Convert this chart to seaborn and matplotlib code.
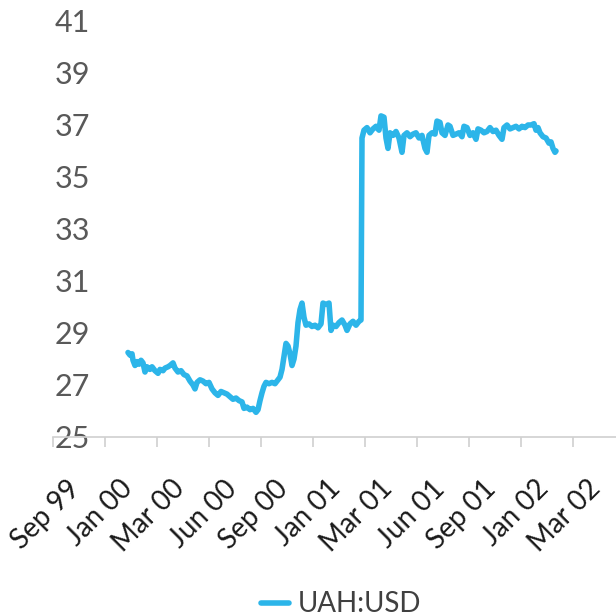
import matplotlib
matplotlib.use("Agg")
import matplotlib.pyplot as plt
import matplotlib.transforms as mtransforms
import seaborn as sns
import pandas as pd

# ---- data (day index along the axis, exchange rate) ----
day = [75, 77, 79, 80, 82, 84, 86, 88, 90, 92, 94, 97, 99, 102, 105, 107, 110, 112,
       115, 117, 120, 122, 125, 128, 131, 134, 137, 140, 142, 144, 147, 150, 153, 156,
       159, 162, 165, 168, 171, 174, 177, 180, 183, 186, 189, 191, 194, 197, 200, 203,
       205, 207, 209, 211, 213, 216, 219, 222, 225, 227, 229, 231, 233, 235, 237, 239,
       241, 243, 245, 247, 249, 251, 253, 256, 259, 262, 265, 268, 270, 273, 276, 278,
       280, 283, 286, 289, 292, 294, 297, 300, 303, 306, 308, 309, 311, 314, 317, 320,
       323, 326, 328, 331, 333, 335, 337, 340, 343, 346, 349, 351, 354, 357, 360, 363,
       366, 369, 372, 374, 376, 379, 382, 384, 387, 389, 392, 395, 397, 400, 403, 406,
       409, 411, 414, 417, 420, 423, 425, 428, 431, 434, 437, 440, 443, 446, 449, 451,
       454, 457, 460, 463, 466, 469, 472, 475, 478, 481, 483, 485, 487, 490, 493, 496,
       498, 500, 502, 503]
rate = [28.25, 28.15, 28.2, 27.95, 27.75, 27.9, 27.8, 27.95, 27.85, 27.5, 27.7, 27.6,
        27.7, 27.55, 27.45, 27.6, 27.55, 27.65, 27.7, 27.75, 27.85, 27.65, 27.5, 27.55,
        27.4, 27.35, 27.15, 27.0, 26.85, 27.1, 27.2, 27.15, 27.05, 27.1, 26.85, 26.7,
        26.6, 26.75, 26.7, 26.65, 26.55, 26.45, 26.5, 26.4, 26.35, 26.1, 26.15, 26.05,
        26.1, 25.95, 26.05, 26.4, 26.7, 26.95, 27.1, 27.05, 27.1, 27.05, 27.2, 27.3,
        27.6, 28.1, 28.6, 28.5, 28.2, 27.75, 28.0, 28.5, 29.4, 29.9, 30.15, 29.6, 29.3,
        29.35, 29.25, 29.3, 29.2, 29.35, 30.15, 30.1, 30.15, 29.1, 29.3, 29.25, 29.4,
        29.5, 29.3, 29.1, 29.35, 29.45, 29.3, 29.45, 29.5, 36.5, 36.8, 36.9, 36.7, 36.85,
        36.95, 36.8, 37.35, 37.3, 36.5, 36.1, 36.7, 36.6, 36.75, 36.5, 35.95, 36.6, 36.7,
        36.55, 36.65, 36.7, 36.5, 36.6, 36.1, 35.95, 36.6, 36.7, 36.65, 37.15, 37.1, 36.7,
        36.6, 37.0, 36.95, 36.6, 36.65, 36.7, 36.55, 36.95, 36.9, 36.6, 36.7, 36.45, 36.85,
        36.8, 36.7, 36.75, 36.9, 36.75, 36.8, 36.6, 36.45, 36.9, 37.0, 36.85, 36.9, 36.95,
        36.85, 36.95, 36.9, 37.0, 37.0, 37.05, 36.8, 36.9, 36.7, 36.55, 36.5, 36.3, 36.35,
        36.1, 35.95, 36.0]
period_labels = ["Sep 99", "Jan 00", "Mar 00", "Jun 00", "Sep 00", "Jan 01",
                 "Mar 01", "Jun 01", "Sep 01", "Jan 02", "Mar 02"]
period_len = 52
y_ticks = [25, 27, 29, 31, 33, 35, 37, 39, 41]
series_name = "UAH:USD"

n = min(len(day), len(rate))
df = pd.DataFrame({"day": day[:n], "rate": rate[:n]})

sns.set_theme(style="white")
plt.rcParams["font.family"] = ["Lato", "DejaVu Sans"]

W = 616
fig = plt.figure(figsize=(6.16, 6.16), dpi=100)
ax = fig.add_axes([53 / W, 1 - 437 / W, 1 - 53 / W, (437 - 21) / W])

sns.lineplot(data=df, x="day", y="rate", ax=ax, color="#2CB5E9",
             linewidth=4.0, label=series_name, legend=False)

ax.set_xlim(0, W - 53)
ax.set_ylim(25, 41)
ax.set_xlabel("")
ax.set_ylabel("")

for s in ["top", "right", "left"]:
    ax.spines[s].set_visible(False)
ax.spines["bottom"].set_color("#D0D0D0")
ax.spines["bottom"].set_linewidth(1.2)

ax.set_yticks(y_ticks)
ax.set_yticklabels([str(v) for v in y_ticks], color="#595959", fontsize=22)
ax.tick_params(axis="y", length=0, pad=-26.5)

major = [i * period_len for i in range(len(period_labels))]
minor = [i * period_len + period_len / 2 for i in range(len(period_labels))]
ax.set_xticks(major)
ax.set_xticklabels([""] * len(major))
ax.set_xticks(minor, minor=True)
ax.set_xticklabels(period_labels, minor=True, rotation=45, ha="right", va="top",
                   rotation_mode="anchor", fontsize=20, color="#1a1a1a")
ax.tick_params(axis="x", which="major", length=7, color="#D0D0D0", width=1.2,
               direction="out", bottom=True)
ax.tick_params(axis="x", which="minor", length=0, pad=19, bottom=True)
offset = mtransforms.ScaledTranslation(-12 / 100, -12 / 100, fig.dpi_scale_trans)
for lab in ax.get_xticklabels(minor=True):
    lab.set_transform(lab.get_transform() + offset)

handles, labels = ax.get_legend_handles_labels()
fig.legend(handles, labels, loc="center", bbox_to_anchor=(0.554, 0.019),
           frameon=False, fontsize=20, handlelength=1.0, handletextpad=0.3,
           labelcolor="#404040")

fig.savefig("out.png", dpi=100)
